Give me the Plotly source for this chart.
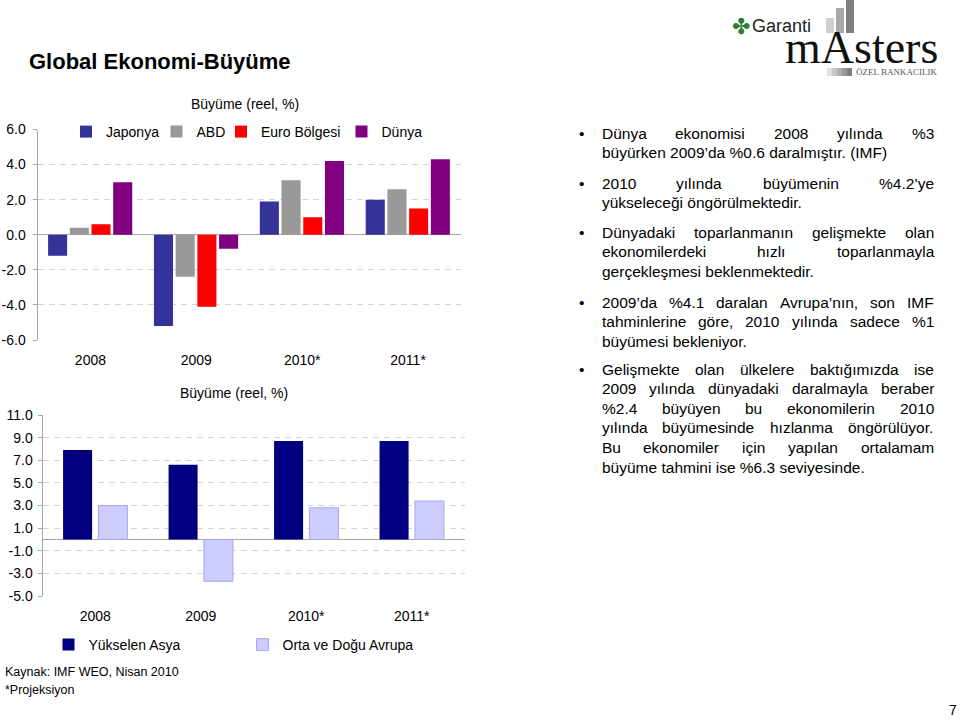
import plotly.graph_objects as go
from plotly.subplots import make_subplots

W, H = 960, 721
FONT = "Liberation Sans"

# --- data ---
years = ["2008", "2009", "2010*", "2011*"]
japonya = [-1.2, -5.2, 1.9, 2.0]
abd = [0.4, -2.4, 3.1, 2.6]
euro = [0.6, -4.1, 1.0, 1.5]
dunya = [3.0, -0.8, 4.2, 4.3]
asya = [7.9, 6.6, 8.7, 8.7]
orta_dogu = [3.0, -3.7, 2.8, 3.4]

top_ticks = [6, 4, 2, 0, -2, -4, -6]
top_ticktext = ["6.0", "4.0", "2.0", "0.0", "-2.0", "-4.0", "-6.0"]
bot_ticks = [11, 9, 7, 5, 3, 1, -1, -3, -5]
bot_ticktext = ["11.0", "9.0", "7.0", "5.0", "3.0", "1.0", "-1.0", "-3.0", "-5.0"]

paragraphs = [
    ["Dünya ekonomisi 2008 yılında %3",
     "büyürken 2009’da %0.6 daralmıştır.  (IMF)"],
    ["2010 yılında büyümenin %4.2’ye",
     "yükseleceği öngörülmektedir."],
    ["Dünyadaki toparlanmanın gelişmekte olan",
     "ekonomilerdeki hızlı toparlanmayla",
     "gerçekleşmesi beklenmektedir."],
    ["2009’da %4.1 daralan Avrupa’nın, son IMF",
     "tahminlerine göre, 2010 yılında sadece %1",
     "büyümesi bekleniyor."],
    ["Gelişmekte olan ülkelere baktığımızda ise",
     "2009 yılında dünyadaki daralmayla beraber",
     "%2.4 büyüyen bu ekonomilerin 2010",
     "yılında büyümesinde hızlanma öngörülüyor.",
     "Bu ekonomiler için yapılan ortalamam",
     "büyüme tahmini ise %6.3 seviyesinde."],
]
para_y = [133, 183, 232, 302, 369]


def px(x):
    return x / W


def py(y):
    return 1 - y / H


# arial-ish advance widths (per 1000 em) for justifying the bullet text
ARIAL = {" ": 278, "%": 889, "’": 222, "(": 333, ")": 333, ",": 278, ".": 278, "*": 389,
         "A": 667, "B": 667, "D": 722, "F": 611, "G": 778, "I": 278, "M": 833,
         "a": 556, "b": 556, "c": 500, "d": 556, "e": 556, "f": 278, "g": 556, "h": 556,
         "i": 222, "j": 222, "k": 500, "l": 222, "m": 833, "n": 556, "o": 556, "p": 556,
         "r": 333, "s": 500, "t": 278, "u": 556, "v": 500, "y": 500, "z": 500,
         "ı": 278, "ş": 500, "ğ": 556, "ç": 500, "ö": 556, "ü": 556}


def text_w(s, size):
    return sum(ARIAL.get(c, 556) for c in s) * size / 1000


fig = make_subplots(rows=2, cols=1)

# one legend per entry so each swatch sits where the slide has it
top_series = [("Japonya", japonya, "#333399", "legend", 86),
              ("ABD", abd, "#999999", "legend2", 176.5),
              ("Euro Bölgesi", euro, "#FF0000", "legend3", 241),
              ("Dünya", dunya, "#800080", "legend4", 361.5)]
legends = {}
for i, (name, vals, col, leg, lx) in enumerate(top_series):
    fig.add_trace(go.Bar(x=years, y=vals, name=name, marker_color=col,
                         marker_line_width=0, width=0.18,
                         offset=-0.4 + i * 0.205, legend=leg), row=1, col=1)
    legends[leg] = (lx, 132)

fig.add_trace(go.Bar(x=years, y=asya, name="Yükselen Asya", marker_color="#000080",
                     marker_line_width=0, width=0.275, offset=-0.305,
                     legend="legend5"), row=2, col=1)
fig.add_trace(go.Bar(x=years, y=orta_dogu, name="Orta ve Doğu Avrupa",
                     marker=dict(color="#CCCCFF", line=dict(color="#A8A8E8", width=1)),
                     width=0.275, offset=0.03, legend="legend6"), row=2, col=1)
legends["legend5"] = (68.5, 645)
legends["legend6"] = (262.5, 645)

yax = dict(showgrid=True, gridcolor="#D4D4D4", griddash="6px,5px", gridwidth=1,
           zeroline=True, zerolinecolor="#A6A6A6", zerolinewidth=1,
           showline=True, linecolor="#A6A6A6", linewidth=1, automargin=False,
           ticks="outside", ticklen=4, tickcolor="#A6A6A6",
           tickfont=dict(family=FONT, size=14, color="#000"))
xax = dict(showgrid=False, zeroline=False, showline=False, ticks="", automargin=False,
           tickfont=dict(family=FONT, size=14, color="#000"), ticklabelstandoff=10)

fig.update_yaxes(**yax, range=[-6, 6], tickvals=top_ticks, ticktext=top_ticktext,
                 ticklabelstandoff=4, domain=[py(340), py(129.5)], row=1, col=1)
fig.update_yaxes(**yax, range=[-5, 11], tickvals=bot_ticks, ticktext=bot_ticktext,
                 ticklabelstandoff=2, domain=[py(596), py(415)], row=2, col=1)
fig.update_xaxes(**xax, domain=[px(37.5), px(461)], row=1, col=1)
fig.update_xaxes(**xax, domain=[px(42.5), px(464.5)], row=2, col=1)

ann = []
ann.append(dict(text="<b>Global Ekonomi-Büyüme</b>", x=px(28), y=py(62), xanchor="left",
                yanchor="middle", font=dict(family=FONT, size=22, color="#000")))
ann.append(dict(text="Büyüme (reel, %)", x=px(245), y=py(104), xanchor="center",
                yanchor="middle", font=dict(family=FONT, size=14, color="#000")))
ann.append(dict(text="Büyüme (reel, %)", x=px(234), y=py(393), xanchor="center",
                yanchor="middle", font=dict(family=FONT, size=14, color="#000")))
ann.append(dict(text="Kaynak: IMF WEO, Nisan 2010", x=px(4), y=py(672), xanchor="left",
                yanchor="middle", font=dict(family=FONT, size=12.5, color="#000")))
ann.append(dict(text="*Projeksiyon", x=px(4), y=py(690), xanchor="left",
                yanchor="middle", font=dict(family=FONT, size=12.5, color="#000")))
ann.append(dict(text="7", x=px(953), y=py(710), xanchor="center",
                yanchor="middle", font=dict(family=FONT, size=14, color="#000")))

# bullet text, justified like the slide
fs = 15.5
left, right = 600.5, 933
for p, y0 in zip(paragraphs, para_y):
    ann.append(dict(text="•", x=px(581), y=py(y0), xanchor="center", yanchor="middle",
                    font=dict(family=FONT, size=fs, color="#000")))
    for j, line in enumerate(p):
        y = y0 + j * 19.6
        if j == len(p) - 1:
            ann.append(dict(text=line.replace("  ", " "), x=px(left), y=py(y),
                            xanchor="left", yanchor="middle",
                            font=dict(family=FONT, size=fs, color="#000")))
            continue
        words = line.split()
        total = sum(text_w(w, fs) for w in words)
        gap = (right - left - total) / (len(words) - 1)
        x = left
        for w in words:
            ann.append(dict(text=w, x=px(x), y=py(y), xanchor="left", yanchor="middle",
                            font=dict(family=FONT, size=fs, color="#000")))
            x += text_w(w, fs) + gap

# logo
ann.append(dict(text="✤", x=px(741), y=py(27), xanchor="center", yanchor="middle",
                font=dict(family="DejaVu Sans", size=22, color="#2E7D32")))
ann.append(dict(text="Garanti", x=px(751), y=py(26), xanchor="left", yanchor="middle",
                font=dict(family=FONT, size=18, color="#222")))
ann.append(dict(text="mAsters", x=px(784), y=py(48), xanchor="left", yanchor="middle",
                font=dict(family="Liberation Serif", size=46, color="#111")))
ann.append(dict(text="ÖZEL BANKACILIK", x=px(855), y=py(72), xanchor="left",
                yanchor="middle", font=dict(family="Liberation Serif", size=9, color="#555")))
for a in ann:
    a.update(xref="paper", yref="paper", showarrow=False, borderpad=0)

shapes = []
# white strip behind the top legend, hides the 6.0 grid line there
shapes.append(dict(type="rect", xref="paper", yref="paper", x0=px(77), x1=px(412),
                   y0=py(139), y1=py(125), fillcolor="white", line_width=0, layer="above"))
for x0, x1, top, c in [(826, 834, 18, "#D0D0D0"), (836, 844, 8, "#A8A8A8"),
                       (846, 854, 0, "#808080")]:
    shapes.append(dict(type="rect", xref="paper", yref="paper", x0=px(x0), x1=px(x1),
                       y0=py(33), y1=py(top), fillcolor=c, line_width=0, layer="below"))
for k, c in enumerate(["#E0E0E0", "#C8C8C8", "#B0B0B0", "#989898", "#808080"]):
    shapes.append(dict(type="rect", xref="paper", yref="paper", x0=px(827 + k * 5),
                       x1=px(832 + k * 5), y0=py(76), y1=py(68), fillcolor=c, line_width=0))

legend_layout = {}
for leg, (lx, ly) in legends.items():
    legend_layout[leg] = dict(orientation="h", x=px(lx - 20), y=py(ly), xanchor="left",
                              yanchor="middle", bgcolor="rgba(0,0,0,0)",
                              font=dict(family=FONT, size=14, color="#000"))

fig.update_layout(
    width=W, height=H,
    margin=dict(l=0, r=0, t=0, b=0, autoexpand=False),
    paper_bgcolor="white", plot_bgcolor="white",
    barmode="overlay",
    showlegend=True,
    font=dict(family=FONT, size=14, color="#000"),
    annotations=ann,
    shapes=shapes,
    **legend_layout,
)

CONFIG = {"displayModeBar": False, "displaylogo": False}

# the page body has a default 8px margin; drop it so the slide sits at 0,0
fig.write_html("out.html", config=CONFIG,
               post_script="document.body.style.margin = '0';")
